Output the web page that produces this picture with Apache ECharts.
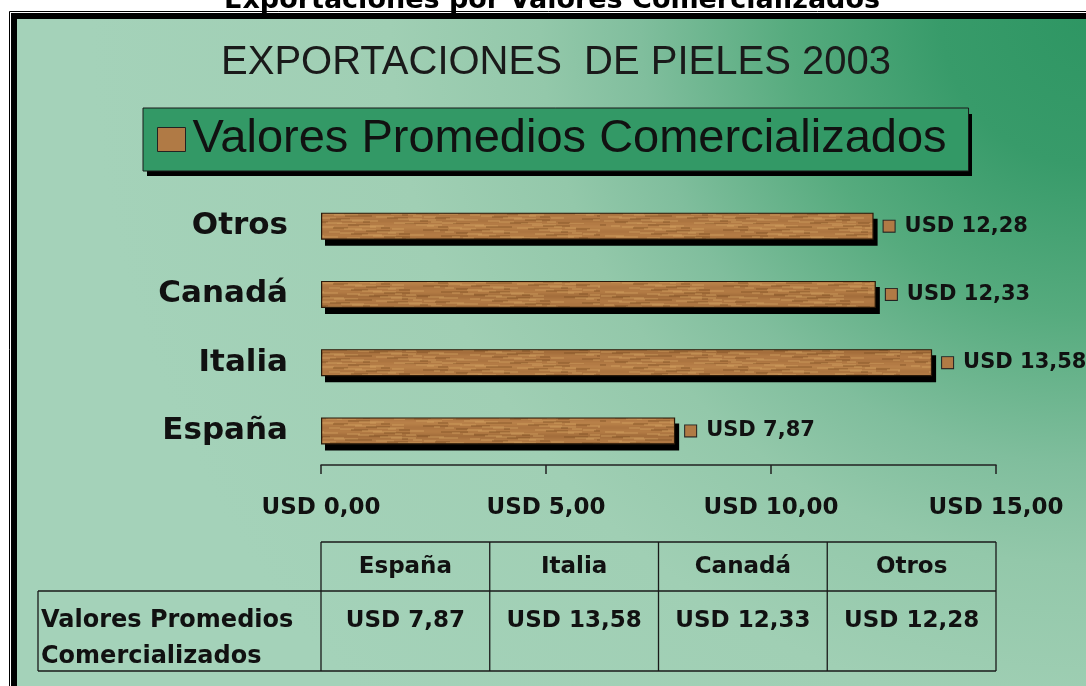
<!DOCTYPE html>
<html><head><meta charset="utf-8">
<script src="https://cdn.jsdelivr.net/npm/echarts@6/dist/echarts.min.js"></script>
<style>html,body{margin:0;padding:0;background:#fff}#c{width:1086px;height:686px}</style>
</head><body><div id="c"></div>
<script>
// ---- data ----
const pageTitle = 'Exportaciones por Valores Comercializados';
const chartTitle = 'EXPORTACIONES  DE PIELES 2003';
const seriesName = 'Valores Promedios Comercializados';
const categories = ['España', 'Italia', 'Canadá', 'Otros'];
const values = [7.87, 13.58, 12.33, 12.28];
const xTicks = [0, 5, 10, 15];
const tableRowLabel = ['Valores Promedios', 'Comercializados'];

const fmt = v => 'USD ' + v.toFixed(2).replace('.', ',');

// ---- wood texture (deterministic) ----
function woodCanvas() {
  const c = document.createElement('canvas');
  c.width = 300; c.height = 28;
  const g = c.getContext('2d');
  g.fillStyle = '#b07843'; g.fillRect(0, 0, 300, 28);
  for (let y = 0; y < 28; y++) {
    const s = Math.sin(y * 0.7) * 0.5 + Math.sin(y * 0.23 + 1) * 0.5;
    const a = Math.abs(s) * 0.22;
    g.fillStyle = s > 0 ? 'rgba(212,160,95,' + a + ')' : 'rgba(125,78,36,' + a + ')';
    g.fillRect(0, y, 300, 1);
  }
  for (let i = 0; i < 140; i++) {
    const x = (i * 47) % 300, y = (i * 13) % 28, len = 6 + (i * 7) % 22;
    g.fillStyle = i % 3 === 0 ? 'rgba(120,74,32,0.35)' : 'rgba(215,165,100,0.35)';
    g.fillRect(x, y, len, 2);
  }
  return c;
}
const wood = { image: woodCanvas(), repeat: 'repeat' };

// ---- layout constants ----
const GL = 321, GW = 675, GT = 192, GH = 273, BAR_H = 27;
const boldFont = 'DejaVu Sans';
const chart = echarts.init(document.getElementById('c'), null, { renderer: 'canvas' });

// table graphics
const colX = [0, 1, 2, 3, 4].map(i => GL + GW * i / 4);
const hTop = 542, hBot = 591, bBot = 671, leftX = 38;
const tbl = [];
const line = (x1, y1, x2, y2) => tbl.push({ type: 'line', shape: { x1, y1, x2, y2 }, style: { stroke: '#1a1a1a', lineWidth: 1.3 }, z: 10 });
line(colX[0], hTop, colX[4], hTop);
line(leftX, hBot, colX[4], hBot);
line(leftX, bBot, colX[4], bBot);
colX.forEach(x => line(x, hTop, x, bBot));
line(leftX, hBot, leftX, bBot);
categories.forEach((c, i) => {
  const cx = (colX[i] + colX[i + 1]) / 2;
  tbl.push({ type: 'text', x: cx, y: 567, style: { text: c, font: 'bold 23px ' + boldFont, fill: '#111', align: 'center', verticalAlign: 'middle' }, z: 10 });
  tbl.push({ type: 'text', x: cx, y: 621, style: { text: fmt(values[i]), font: 'bold 23px ' + boldFont, fill: '#111', align: 'center', verticalAlign: 'middle' }, z: 10 });
});
tableRowLabel.forEach((t, i) => {
  tbl.push({ type: 'text', x: 41, y: 621 + i * 36, style: { text: t, font: 'bold 24px ' + boldFont, fill: '#111', align: 'left', verticalAlign: 'middle' }, z: 10 });
});

const option = {
  animation: false,
  graphic: [
    // frame
    { type: 'rect', shape: { x: 9.5, y: 11.5, width: 1200, height: 800 }, style: { fill: 'none', stroke: '#000', lineWidth: 1 }, z: -20 },
    { type: 'rect', shape: { x: 14, y: 16, width: 1200, height: 800 }, style: { fill: 'none', stroke: '#000', lineWidth: 6 }, z: -20 },
    { type: 'rect', shape: { x: 17, y: 19, width: 1200, height: 800 },
      style: { fill: { type: 'radial', x: 1090, y: 15, r: 1000, global: true,
        colorStops: [
          { offset: 0, color: '#2e9663' }, { offset: 0.15, color: '#389b6a' },
          { offset: 0.3, color: '#56ab7e' }, { offset: 0.45, color: '#80be9d' },
          { offset: 0.55, color: '#93c8aa' }, { offset: 0.7, color: '#a0cfb4' },
          { offset: 1, color: '#a4d2b9' }] } }, z: -19 },
    // legend drop shadow
    { type: 'rect', shape: { x: 147, y: 114, width: 825, height: 62 }, style: { fill: '#000' }, z: -5 },
    { type: 'text', x: 552, y: 1, style: { text: pageTitle, font: 'bold 27px ' + boldFont, fill: '#000', align: 'center', verticalAlign: 'middle' }, z: 5 },
    { type: 'text', x: 556, y: 63, style: { text: chartTitle, font: '40px "Liberation Sans"', fill: '#1a1a1a', align: 'center', verticalAlign: 'middle' }, z: 5 }
  ].concat(tbl),
  legend: {
    left: 143, top: 108, selectedMode: false, z: 3,
    data: [{ name: seriesName, itemStyle: { color: '#b07a45', borderColor: '#222', borderWidth: 1 } }],
    icon: 'rect', itemWidth: 28, itemHeight: 24, itemGap: 0,
    padding: [8, 22, 8, 14],
    backgroundColor: '#339966', borderColor: '#1a1a1a', borderWidth: 1,
    textStyle: { fontFamily: 'Liberation Sans', fontSize: 47, lineHeight: 46, color: '#111', padding: [0, 0, 0, 2] }
  },
  grid: { left: GL, top: GT, width: GW, height: GH, containLabel: false },
  xAxis: {
    type: 'value', min: 0, max: 15, interval: 5,
    axisLine: { show: true, lineStyle: { color: '#222', width: 1.5 } },
    axisTick: { show: true, inside: false, length: 9, lineStyle: { color: '#222', width: 1.5 } },
    splitLine: { show: false },
    axisLabel: { formatter: v => xTicks.includes(v) ? fmt(v) : '', margin: 32, fontFamily: boldFont, fontWeight: 'bold', fontSize: 23, color: '#111' }
  },
  yAxis: {
    type: 'category', data: categories,
    axisLine: { show: false }, axisTick: { show: false },
    axisLabel: { margin: 33, fontFamily: boldFont, fontWeight: 'bold', fontSize: 31, color: '#111' }
  },
  series: [{
    name: 'sombra', type: 'custom', silent: true, z: 1,
    data: values.map((v, i) => [v, i]),
    encode: { x: 0, y: 1 },
    renderItem: (params, api) => {
      const end = api.coord([api.value(0), api.value(1)]);
      const start = api.coord([0, api.value(1)]);
      return { type: 'rect', shape: { x: start[0] + 4, y: end[1] - BAR_H / 2 + 6, width: end[0] - start[0], height: BAR_H }, style: { fill: '#000' } };
    }
  }, {
    name: seriesName, type: 'bar', data: values, barWidth: BAR_H, z: 2,
    itemStyle: { color: wood, borderColor: '#2a1a0a', borderWidth: 1.2 },
    label: {
      show: true, position: 'right', distance: 10,
      formatter: p => '{sq|}{t|' + fmt(p.value) + '}',
      rich: {
        sq: { width: 11, height: 11, backgroundColor: '#b07a45', borderColor: '#222', borderWidth: 1 },
        t: { fontFamily: boldFont, fontWeight: 'bold', fontSize: 21, color: '#111', padding: [0, 0, 0, 10] }
      }
    }
  }]
};
chart.setOption(option);
</script>
</body></html>
